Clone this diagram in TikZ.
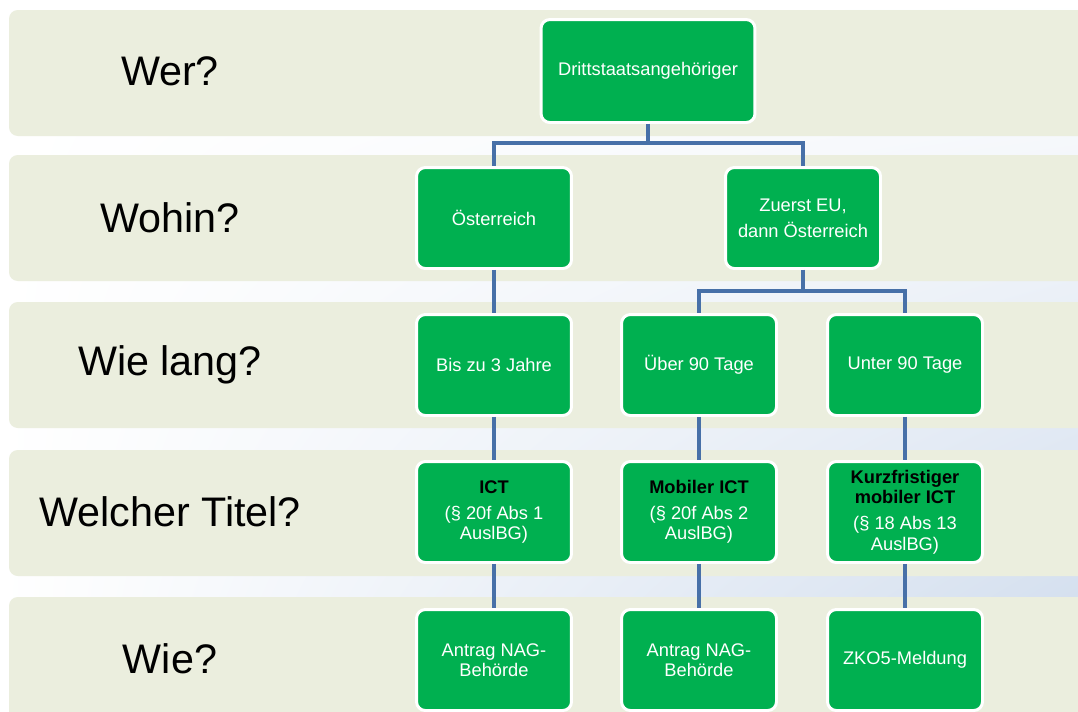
\documentclass[tikz,border=0pt]{standalone}
\usepackage{fontspec}
\setmainfont{Liberation Sans}
\usetikzlibrary{shadings}
\definecolor{bandfill}{RGB}{235,238,222}
\definecolor{boxgreen}{RGB}{0,176,80}
\definecolor{linkblue}{RGB}{71,112,168}
\definecolor{gapblue}{RGB}{205,218,236}
\newcommand\titelname[1]{\textcolor{black}{\textbf{#1}}}

\begin{document}
\begin{tikzpicture}[x=0.02cm,y=-0.02cm,
	band/.style={fill=bandfill,rounded corners=5pt},
	gbox/.style={draw=white,line width=1.7pt,fill=boxgreen,rounded corners=5pt,
		minimum width=3.1cm,minimum height=2.02cm,inner sep=2pt,
		align=center,text=white,font=\fontsize{10.4}{11.7}\selectfont},
	frage/.style={font=\fontsize{23.5}{28}\selectfont},
	link/.style={draw=linkblue,line width=2.3pt}]
				\useasboundingbox (0,0) rectangle (1078,711);
				\clip (0,0) rectangle (1078,711);
				\shade[upper left=white,upper right=white,lower left=white,lower right=gapblue] (0,0) rectangle (1078,711);
				% Zeilen
				\foreach \y in {10,155,302,450,597}
				\fill[band] (9,\y) rectangle (1100,\y+126);
				\foreach \n/\y/\t in {wer/71/Wer?,wohin/218/Wohin?,wielang/365/Wie lang?,titel/512/Welcher Titel?,wie/659/Wie?}
				\node[frage] (\n) at (170,\y) {\t};
				% Kaestchen
				\node[gbox,minimum width=4.28cm,minimum height=2.06cm] (dritt) at (648,71) {Drittstaatsangehöriger};
				\node[gbox] (oest) at (494,218) {Österreich};
				\node[gbox] (zuerst) at (803,218) {Zuerst EU,\\[3pt]dann Österreich};
				\node[gbox] (bis) at (494,365) {Bis zu 3 Jahre};
				\node[gbox] (ueber) at (699,365) {Über 90 Tage};
				\node[gbox] (unter) at (905,365) {Unter 90 Tage};
				\node[gbox] (ict) at (494,512) {\titelname{ICT}\\[3pt](§ 20f Abs 1\\AuslBG)};
				\node[gbox] (mobil) at (699,512) {\titelname{Mobiler ICT}\\[3pt](§ 20f Abs 2\\AuslBG)};
				\node[gbox] (kurz) at (905,512) {\titelname{Kurzfristiger}\\\titelname{mobiler ICT}\\[3pt](§ 18 Abs 13\\AuslBG)};
				\node[gbox] (antrag1) at (494,660) {Antrag NAG-\\Behörde};
				\node[gbox] (antrag2) at (699,660) {Antrag NAG-\\Behörde};
				\node[gbox] (zko) at (905,660) {ZKO5-Meldung};
				% Verbindungen
				\draw[link] (dritt.south) -- ++(0,19) -| (oest.north);
				\draw[link] (dritt.south) -- ++(0,19) -| (zuerst.north);
				\draw[link] (zuerst.south) -- ++(0,21) -| (ueber.north);
				\draw[link] (zuerst.south) -- ++(0,21) -| (unter.north);
				\foreach \a/\b in {oest/bis,bis/ict,ict/antrag1,ueber/mobil,mobil/antrag2,unter/kurz,kurz/zko}
				\draw[link] (\a) -- (\b);
			\end{tikzpicture}
\end{document}
